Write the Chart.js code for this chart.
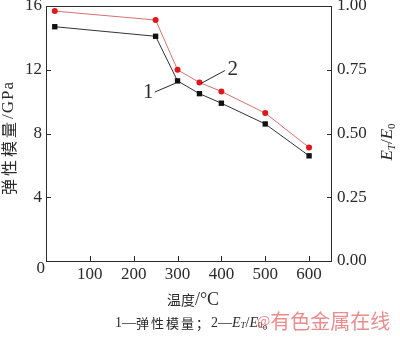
<!DOCTYPE html>
<html>
<head>
<meta charset="utf-8">
<script src="https://cdn.jsdelivr.net/npm/chart.js@4.4.1/dist/chart.umd.min.js"></script>
<style>
  html, body { margin: 0; padding: 0; background: #fff; }
  #wrap { width: 400px; height: 337px; position: relative; }
</style>
</head>
<body>
<div id="wrap"><canvas id="modulus-chart"></canvas></div>
<script>
// temperature (°C) against elastic modulus and retained ratio E_T/E_0
const temperatures = [20, 250, 300, 350, 400, 500, 600];
const modulusGPa = [14.7, 14.1, 11.3, 10.5, 9.9, 8.6, 6.6];
const modulusRatio = [0.98, 0.945, 0.75, 0.70, 0.665, 0.58, 0.445];

const xTicks = [100, 200, 300, 400, 500, 600];
const leftTicks = [4, 8, 12, 16];
const rightTicks = [0, 0.25, 0.5, 0.75, 1];

const SERIF = "'Liberation Serif', 'Times New Roman', serif";
const CJK = "'Noto Sans CJK SC', sans-serif";
const INK = '#2a2a2a';

function toPoints(xs, ys) {
  return xs.map((x, i) => ({ x: x, y: ys[i] }));
}

function fixedTicks(values) {
  return scale => { scale.ticks = values.map(v => ({ value: v })); };
}

// draws a row of text pieces with their own fonts, returns total width
function runs(ctx, parts, x, y, measureOnly) {
  let cx = x;
  parts.forEach(p => {
    ctx.font = p.font;
    ctx.letterSpacing = p.spacing || '0px';
    if (!measureOnly) ctx.fillText(p.text, cx, y + (p.dy || 0));
    cx += ctx.measureText(p.text).width;
  });
  ctx.letterSpacing = '0px';
  return cx - x;
}

function centeredRuns(ctx, parts, cx, cy, angle) {
  ctx.save();
  ctx.translate(cx, cy);
  ctx.rotate(angle || 0);
  ctx.textAlign = 'left';
  ctx.textBaseline = 'middle';
  const w = runs(ctx, parts, 0, 0, true);
  runs(ctx, parts, -w / 2, 0);
  ctx.restore();
}

const frame = {
  id: 'frame',
  beforeDraw(chart) {
    const ctx = chart.ctx;
    ctx.save();
    ctx.fillStyle = '#fff';
    ctx.fillRect(0, 0, chart.width, chart.height);
    ctx.restore();
  },
  afterDraw(chart) {
    const ctx = chart.ctx;
    const a = chart.chartArea;
    const sx = chart.scales.x, sy = chart.scales.y, sr = chart.scales.y1;
    ctx.save();
    ctx.strokeStyle = INK;
    ctx.lineWidth = 1;

    // top edge of the box
    ctx.beginPath();
    ctx.moveTo(a.left, Math.round(a.top) + 0.5);
    ctx.lineTo(a.right, Math.round(a.top) + 0.5);
    ctx.stroke();

    // inward tick marks
    ctx.beginPath();
    xTicks.forEach(v => {
      const px = Math.round(sx.getPixelForValue(v)) + 0.5;
      ctx.moveTo(px, a.bottom);
      ctx.lineTo(px, a.bottom - 5);
    });
    leftTicks.forEach(v => {
      const py = Math.round(sy.getPixelForValue(v)) + 0.5;
      ctx.moveTo(a.left, py);
      ctx.lineTo(a.left + 5, py);
    });
    rightTicks.forEach(v => {
      const py = Math.round(sr.getPixelForValue(v)) + 0.5;
      ctx.moveTo(a.right, py);
      ctx.lineTo(a.right - 4, py);
    });
    ctx.stroke();

    ctx.fillStyle = INK;
    // shared origin label
    ctx.font = '17px ' + SERIF;
    ctx.textAlign = 'right';
    ctx.textBaseline = 'middle';
    ctx.fillText('0', sx.getPixelForValue(0) - 1, sy.getPixelForValue(0) + 8);

    // curve numbers with leader lines
    ctx.beginPath();
    ctx.moveTo(sx.getPixelForValue(248), sy.getPixelForValue(10.6));
    ctx.lineTo(sx.getPixelForValue(295), sy.getPixelForValue(11.15));
    ctx.moveTo(sx.getPixelForValue(354), sy.getPixelForValue(11.15));
    ctx.lineTo(sx.getPixelForValue(408), sy.getPixelForValue(11.95));
    ctx.stroke();
    ctx.font = '21px ' + SERIF;
    ctx.textAlign = 'right';
    ctx.fillText('1', sx.getPixelForValue(245), sy.getPixelForValue(10.55));
    ctx.textAlign = 'left';
    ctx.fillText('2', sx.getPixelForValue(414), sy.getPixelForValue(12.0));

    // axis titles
    const it = 'italic 17px ' + SERIF, sub = 'italic 11px ' + SERIF;
    centeredRuns(ctx, [
      { text: '弹性模量', font: '16px ' + CJK, spacing: '3px' },
      { text: '/GPa', font: '17px ' + SERIF, spacing: '1px' }
    ], 9, 138, -Math.PI / 2);
    centeredRuns(ctx, [
      { text: 'E', font: it },
      { text: 'T', font: sub, dy: 4 },
      { text: '/', font: '17px ' + SERIF },
      { text: 'E', font: it },
      { text: '0', font: '11px ' + SERIF, dy: 4 }
    ], 388, 142, -Math.PI / 2);
    centeredRuns(ctx, [
      { text: '温度', font: '14px ' + CJK },
      { text: '/°C', font: '18px ' + SERIF }
    ], 193, 300);

    // caption
    ctx.textAlign = 'left';
    ctx.textBaseline = 'middle';
    const cs = '14px ' + SERIF, cc = '13px ' + CJK;
    runs(ctx, [
      { text: '1—', font: cs },
      { text: '弹性模量；', font: cc, spacing: '2px' },
      { text: '2—', font: cs },
      { text: 'E', font: 'italic 14px ' + SERIF },
      { text: 'T', font: 'italic 9px ' + SERIF, dy: 3 },
      { text: '/', font: cs },
      { text: 'E', font: 'italic 14px ' + SERIF },
      { text: '0', font: '9px ' + SERIF, dy: 3 },
      { text: '。', font: cc }
    ], 115, 323);

    // source mark
    ctx.fillStyle = 'rgba(226, 96, 96, 0.72)';
    runs(ctx, [
      { text: '@', font: '14px ' + CJK },
      { text: '有色金属在线', font: '20px ' + CJK }
    ], 257, 321);
    ctx.restore();
  }
};

function fixWidth(w) {
  return scale => {
    scale.width = w;
    scale.paddingTop = 0;
    scale.paddingBottom = 0;
  };
}

const ctx = document.getElementById('modulus-chart').getContext('2d');
const modulusChart = new Chart(ctx, {
  type: 'line',
  data: {
    datasets: [{
      label: '弹性模量',
      data: toPoints(temperatures, modulusGPa),
      yAxisID: 'y',
      borderColor: '#333',
      borderWidth: 1,
      backgroundColor: '#111',
      pointStyle: 'rect',
      pointRadius: 3.8,
      pointBorderWidth: 0,
      tension: 0
    }, {
      label: 'ET/E0',
      data: toPoints(temperatures, modulusRatio),
      yAxisID: 'y1',
      borderColor: '#d87070',
      borderWidth: 1,
      backgroundColor: '#e2171c',
      pointStyle: 'circle',
      pointRadius: 3,
      pointBorderWidth: 0,
      tension: 0
    }]
  },
  options: {
    responsive: true,
    maintainAspectRatio: false,
    animation: false,
    layout: { padding: { top: 6, left: 0, right: 0, bottom: 0 } },
    plugins: { legend: { display: false }, tooltip: { enabled: false } },
    scales: {
      x: {
        type: 'linear',
        position: 'bottom',
        min: 0,
        max: 650,
        grid: { display: false, drawTicks: false },
        border: { display: true, color: INK, width: 1 },
        afterBuildTicks: fixedTicks(xTicks),
        ticks: {
          autoSkip: false,
          maxRotation: 0,
          padding: 3,
          color: INK,
          font: { family: SERIF, size: 17 }
        },
        afterFit: scale => {
          scale.height = 76;
          scale.paddingLeft = 0;
          scale.paddingRight = 0;
        }
      },
      y: {
        position: 'left',
        min: 0,
        max: 16,
        grid: { display: false, drawTicks: false },
        border: { display: true, color: INK, width: 1 },
        afterBuildTicks: fixedTicks(leftTicks),
        ticks: {
          autoSkip: false,
          padding: 4,
          color: INK,
          font: { family: SERIF, size: 17 }
        },
        afterFit: fixWidth(46)
      },
      y1: {
        position: 'right',
        min: 0,
        max: 1,
        grid: { display: false, drawTicks: false },
        border: { display: true, color: INK, width: 1 },
        afterBuildTicks: fixedTicks(rightTicks),
        ticks: {
          autoSkip: false,
          padding: 6,
          color: INK,
          font: { family: SERIF, size: 17 },
          callback: v => v.toFixed(2)
        },
        afterFit: fixWidth(69)
      }
    }
  },
  plugins: [frame]
});
</script>
</body>
</html>
